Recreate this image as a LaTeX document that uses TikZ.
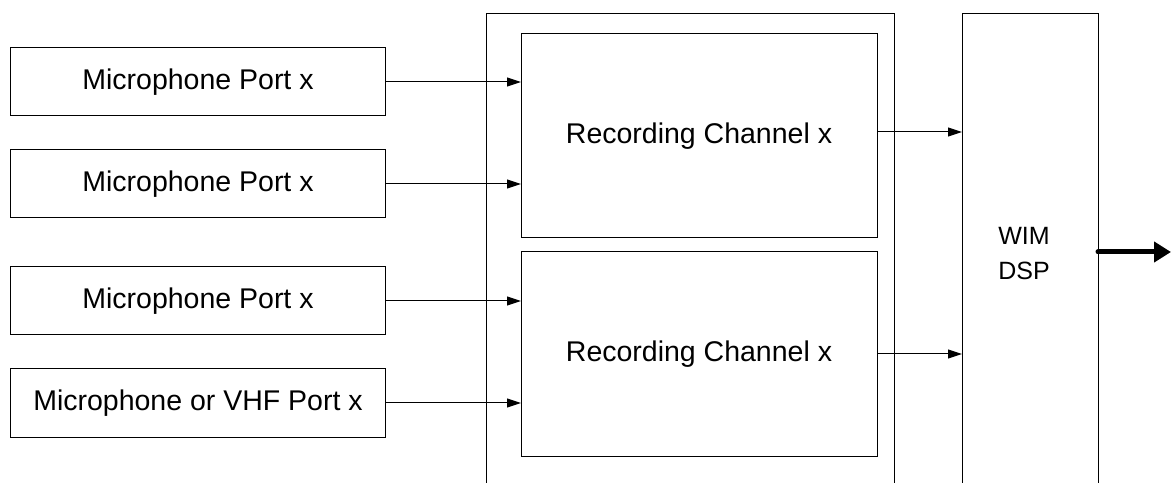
\documentclass[tikz,border=0pt]{standalone}
\usepackage{fontspec}
\setmainfont{Liberation Sans}
\usetikzlibrary{arrows.meta}
\begin{document}
\begin{tikzpicture}[x=1bp,y=-1bp,
  every node/.style={inner sep=0pt, outer sep=0pt, font=\fontsize{28.5bp}{34bp}\selectfont},
  portbox/.style={draw, line width=1bp, minimum width=374bp, minimum height=68bp},
  chanbox/.style={draw, line width=1bp, minimum width=356bp, minimum height=204bp},
  frame/.style={draw, line width=1bp},
  dsptext/.style={align=center, font=\fontsize{25bp}{35bp}\selectfont},
  sig/.style={draw, line width=1bp, -{Triangle[length=14bp,width=9bp]}},
  bigsig/.style={draw, line width=5bp, line cap=round, -{Triangle[length=17bp,width=20bp]}}
]
\useasboundingbox (0,0) rectangle (1171,483);

% microphone inputs
\node[portbox] (p1) at (198,82)  {Microphone Port x};
\node[portbox] (p2) at (198,184) {Microphone Port x};
\node[portbox] (p3) at (198,301) {Microphone Port x};
\node[portbox] (p4) at (198,403) {Microphone or VHF Port x};

% recorder housing, open at the bottom
\coordinate (hsw) at (486,483);
\coordinate (hnw) at (486,14);
\coordinate (hne) at (894,14);
\coordinate (hse) at (894,483);
\draw[frame] (hsw) -- (hnw) -- (hne) -- (hse);

% recording channels
\node[chanbox] (r1) at (699,136) {Recording Channel x};
\node[chanbox] (r2) at (699,354) {Recording Channel x};

% DSP column, open at the bottom
\coordinate (dsw) at (962,483);
\coordinate (dnw) at (962,14);
\coordinate (dne) at (1098,14);
\coordinate (dse) at (1098,483);
\draw[frame] (dsw) -- (dnw) -- (dne) -- (dse);
\node[dsptext] (dsp) at (1024,254) {WIM\\DSP};
\coordinate (out) at (1171,252);

% signal paths
\draw[sig] (p1.east) -- (p1.east -| r1.west);
\draw[sig] (p2.east) -- (p2.east -| r1.west);
\draw[sig] (p3.east) -- (p3.east -| r2.west);
\draw[sig] (p4.east) -- (p4.east -| r2.west);
\draw[sig] ([yshift=4bp]r1.east) -- ([yshift=4bp]r1.east -| dnw);
\draw[sig] (r2.east) -- (r2.east -| dnw);
\draw[bigsig] (out -| dne) -- (out);
\end{tikzpicture}
\end{document}
